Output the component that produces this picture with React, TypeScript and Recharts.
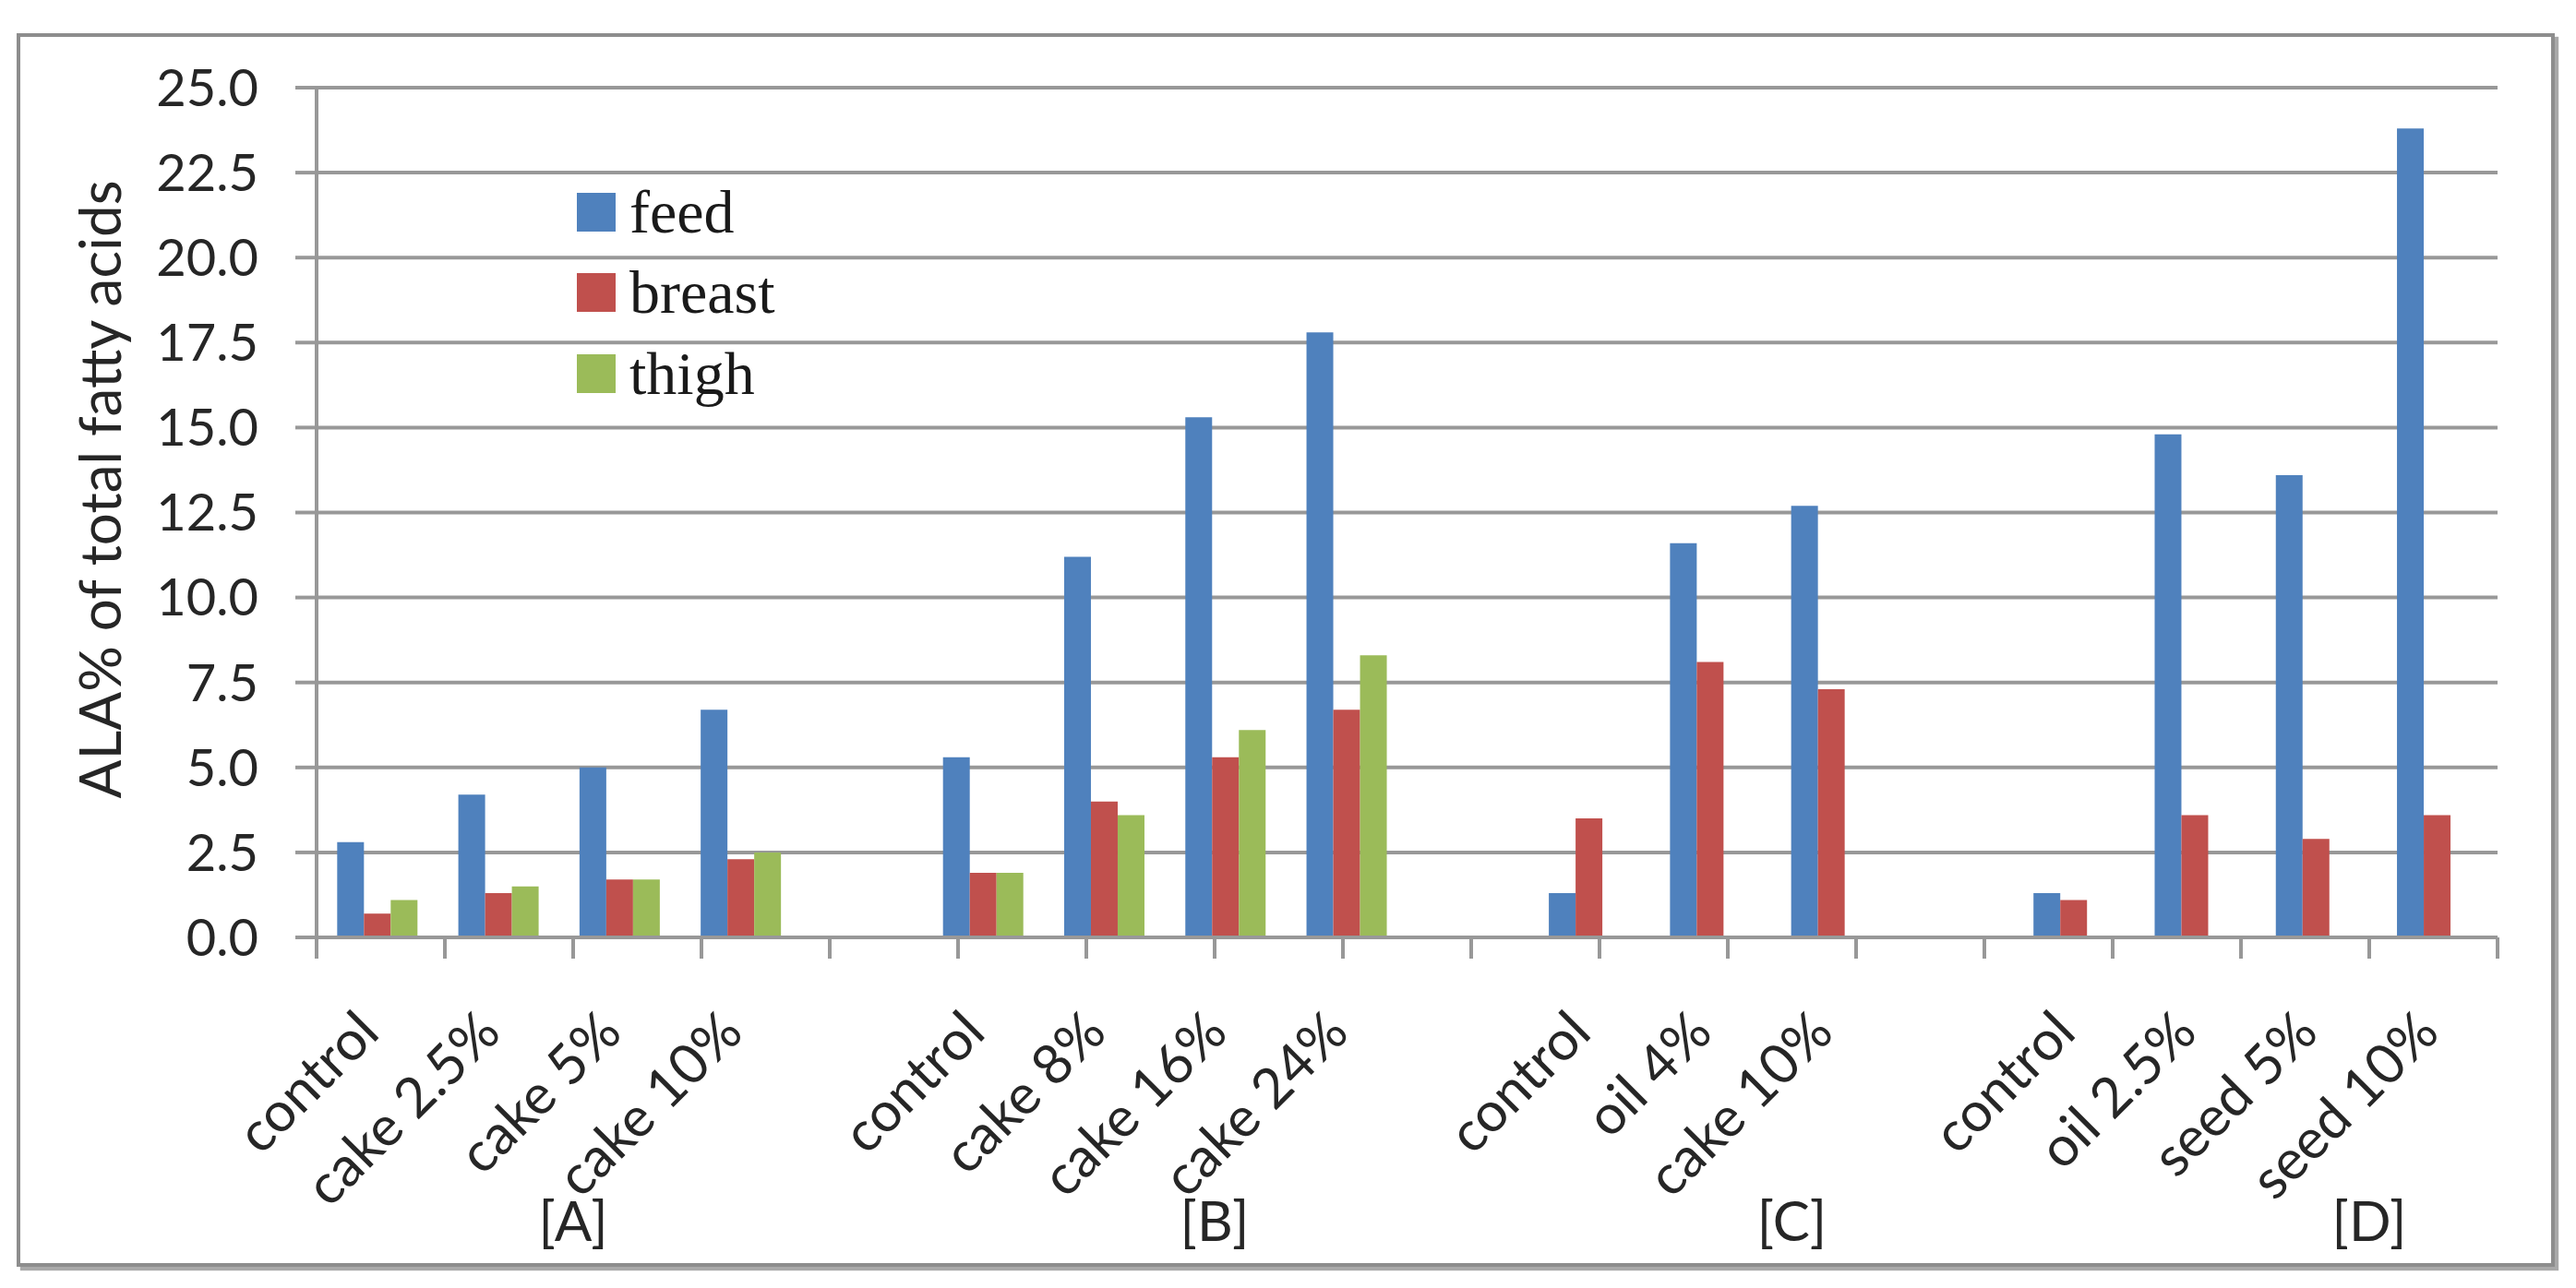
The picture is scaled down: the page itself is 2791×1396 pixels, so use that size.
import React from 'react';
import { BarChart, Bar, XAxis, YAxis, CartesianGrid, Legend, Label } from 'recharts';

// treatment groups and their labels on the category axis
const groupNames = ['[A]', '[B]', '[C]', '[D]'];
const groupTreatments = [
  ['control', 'cake 2.5%', 'cake 5%', 'cake 10%'],
  ['control', 'cake 8%', 'cake 16%', 'cake 24%'],
  ['control', 'oil 4%', 'cake 10%'],
  ['control', 'oil 2.5%', 'seed 5%', 'seed 10%'],
];

// ALA % of total fatty acids, one value per treatment (in the order above)
const feed = [2.8, 4.2, 5.0, 6.7, 5.3, 11.2, 15.3, 17.8, 1.3, 11.6, 12.7, 1.3, 14.8, 13.6, 23.8];
const breast = [0.7, 1.3, 1.7, 2.3, 1.9, 4.0, 5.3, 6.7, 3.5, 8.1, 7.3, 1.1, 3.6, 2.9, 3.6];
const thigh = [1.1, 1.5, 1.7, 2.5, 1.9, 3.6, 6.1, 8.3, null, null, null, null, null, null, null];

const seriesOrder = ['feed', 'breast', 'thigh'];
const yTicks = [0, 2.5, 5, 7.5, 10, 12.5, 15, 17.5, 20, 22.5, 25];

const GRID = '#989898';
const TEXT = '#262626';
const SANS = 'Lato, "Open Sans", sans-serif';

// build rows: treatments of each group followed by an empty spacer slot
type Row = { id: string; label: string; feed: number | null; breast: number | null; thigh: number | null };
const rows: Row[] = [];
const groupCenters: number[] = [];
let k = 0;
groupTreatments.forEach((names, g) => {
  const start = rows.length;
  names.forEach((name) => {
    rows.push({ id: `${g}-${name}`, label: name, feed: feed[k], breast: breast[k], thigh: thigh[k] });
    k += 1;
  });
  groupCenters.push(start + names.length / 2);
  if (g < groupTreatments.length - 1) {
    rows.push({ id: `gap-${g}`, label: '', feed: null, breast: null, thigh: null });
  }
});
const slotTicks = Array.from({ length: rows.length + 1 }, (_, i) => i);

const NoLabel = () => <g />;

const CategoryTick = ({ x, y, payload }: any) => {
  const row = rows.find((r) => r.id === payload.value);
  if (!row || !row.label) return null;
  const tx = x + 5;
  const ty = y + 76;
  return (
    <text
      x={tx}
      y={ty}
      transform={`rotate(-45 ${tx} ${ty})`}
      textAnchor="end"
      fontFamily={SANS}
      fontSize={60}
      fill={TEXT}
    >
      {row.label}
    </text>
  );
};

const GroupTick = ({ x, y, payload }: any) => {
  const idx = groupCenters.indexOf(payload.value);
  if (idx < 0) return null;
  return (
    <text x={x} y={y + 49} textAnchor="middle" fontFamily={SANS} fontSize={60} fill={TEXT}>
      {groupNames[idx]}
    </text>
  );
};

const YTitle = ({ viewBox }: any) => {
  const cx = viewBox.x + 107;
  const cy = viewBox.y + viewBox.height / 2 - 25;
  return (
    <text
      x={cx}
      y={cy}
      transform={`rotate(-90 ${cx} ${cy})`}
      textAnchor="middle"
      dominantBaseline="central"
      fontFamily={SANS}
      fontSize={62}
      fill={TEXT}
    >
      ALA% of total fatty acids
    </text>
  );
};

const renderLegend = ({ payload }: any) => {
  const items = [...(payload || [])].sort(
    (a: any, b: any) => seriesOrder.indexOf(a.dataKey) - seriesOrder.indexOf(b.dataKey),
  );
  return (
    <div style={{ fontFamily: '"Liberation Serif", "Times New Roman", serif', fontSize: 66, color: '#1a1a1a' }}>
      {items.map((entry: any) => (
        <div key={entry.value} style={{ display: 'flex', alignItems: 'center', height: 87.5 }}>
          <span style={{ display: 'inline-block', width: 42, height: 42, background: entry.color, marginRight: 15 }} />
          <span>{entry.value}</span>
        </div>
      ))}
    </div>
  );
};

export default function App() {
  return (
    <div style={{ position: 'relative', width: 2791, height: 1396, background: '#fff' }}>
      <style>{'body{margin:0}'}</style>
      <div
        style={{
          position: 'absolute',
          left: 18,
          top: 36,
          width: 2750,
          height: 1337,
          boxSizing: 'border-box',
          border: '4px solid #8d8d8d',
          boxShadow: '4px 4px 1px #a9a9a9',
        }}
      />
      <div style={{ position: 'absolute', left: 0, top: 0 }}>
        <BarChart
          width={2791}
          height={1396}
          data={rows}
          margin={{ top: 95, right: 85, left: 0, bottom: 16 }}
          barCategoryGap="17%"
          barGap={0}
        >
          <CartesianGrid xAxisId="b-cat" vertical={false} stroke={GRID} strokeWidth={4} />
          <XAxis
            xAxisId="a-slots"
            type="number"
            domain={[0, rows.length]}
            allowDataOverflow
            ticks={slotTicks}
            interval={0}
            tick={<NoLabel />}
            tickSize={23}
            height={30}
            axisLine={{ stroke: GRID, strokeWidth: 4 }}
            tickLine={{ stroke: GRID, strokeWidth: 4 }}
          />
          <XAxis
            xAxisId="b-cat"
            dataKey="id"
            interval={0}
            tick={<CategoryTick />}
            tickLine={false}
            axisLine={false}
            tickSize={0}
            tickMargin={0}
            height={250}
          />
          <XAxis
            xAxisId="c-groups"
            type="number"
            domain={[0, rows.length]}
            allowDataOverflow
            ticks={groupCenters}
            interval={0}
            tick={<GroupTick />}
            tickLine={false}
            axisLine={false}
            tickSize={0}
            tickMargin={0}
            height={84}
          />
          <YAxis
            domain={[0, 25]}
            ticks={yTicks}
            interval={0}
            width={343}
            tickSize={23}
            tickMargin={40}
            tickFormatter={(v: number) => v.toFixed(1)}
            tick={{ fontFamily: SANS, fontSize: 56, fill: TEXT }}
            axisLine={{ stroke: GRID, strokeWidth: 4 }}
            tickLine={{ stroke: GRID, strokeWidth: 4 }}
          >
            <Label content={<YTitle />} />
          </YAxis>
          <Legend
            layout="vertical"
            align="center"
            verticalAlign="middle"
            content={renderLegend}
            wrapperStyle={{ left: 625, top: 186, width: 'auto' }}
          />
          <Bar xAxisId="b-cat" dataKey="feed" name="feed" fill="#4F81BD" isAnimationActive={false} />
          <Bar xAxisId="b-cat" dataKey="breast" name="breast" fill="#C0504D" isAnimationActive={false} />
          <Bar xAxisId="b-cat" dataKey="thigh" name="thigh" fill="#9BBB59" isAnimationActive={false} />
        </BarChart>
      </div>
    </div>
  );
}
